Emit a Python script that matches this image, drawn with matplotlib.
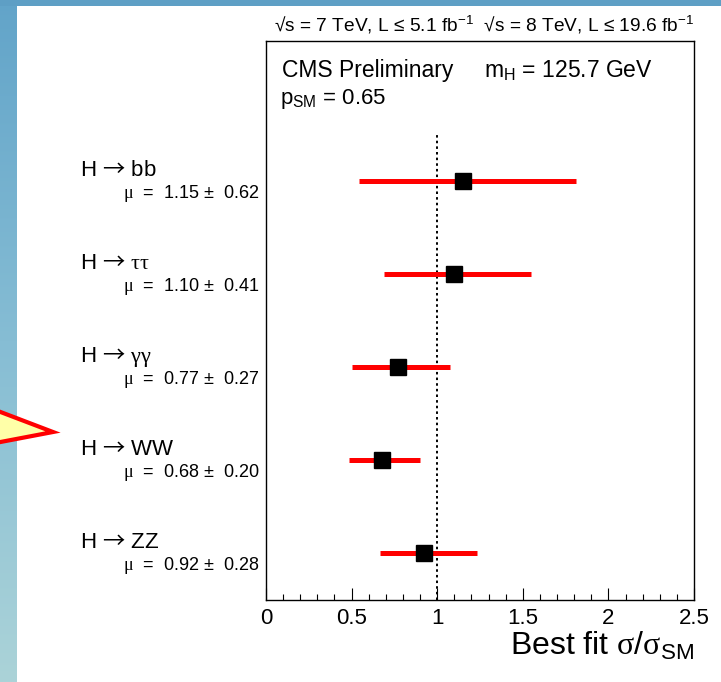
import numpy as np
import matplotlib
matplotlib.use("Agg")
import matplotlib.pyplot as plt
from matplotlib.patches import Polygon, Rectangle
from matplotlib.colors import LinearSegmentedColormap

# signal strength per decay channel
channels = ['bb', r'$\mathit{\tau\tau}$', r'$\mathit{\gamma\gamma}$', 'WW', 'ZZ']
mu = [1.15, 1.10, 0.77, 0.68, 0.92]
mu_err = [0.62, 0.41, 0.27, 0.20, 0.28]
band_lo = [0.545, 0.69, 0.505, 0.487, 0.666]
band_hi = [1.81, 1.547, 1.075, 0.90, 1.234]
tick_vals = [0, 0.5, 1, 1.5, 2, 2.5]
tick_labels = ['0', '0.5', '1', '1.5', '2', '2.5']

plt.rcParams['font.family'] = ['Liberation Sans', 'DejaVu Sans']
plt.rcParams['mathtext.fontset'] = 'custom'
plt.rcParams['mathtext.rm'] = 'Liberation Sans'
plt.rcParams['mathtext.it'] = 'Liberation Serif'
plt.rcParams['mathtext.sf'] = 'Noto Sans CJK JP'
plt.rcParams['mathtext.default'] = 'rm'

W, H = 721, 682
fig = plt.figure(figsize=(W / 100, H / 100), dpi=100)

# slide background, pixel coords from the top left
bg = fig.add_axes([0, 0, 1, 1], zorder=-10)
grad = np.linspace(0, 1, 256).reshape(-1, 1)
slide_cmap = LinearSegmentedColormap.from_list('slide', ['#62a4c9', '#86bdd4', '#abd3d8'])
bg.imshow(grad, extent=(0, 17, H, 0), cmap=slide_cmap, aspect='auto')
bg.add_patch(Rectangle((0, 0), W, 6, color='#5e9fc5', lw=0))
bg.add_patch(Polygon([(-10, 408), (53, 432), (-10, 444)], closed=True,
                     facecolor='#ffffa8', edgecolor='#ff0000', lw=3, joinstyle='miter'))
bg.set_xlim(0, W)
bg.set_ylim(H, 0)
bg.axis('off')

# main plot
ax = fig.add_axes([266 / W, (H - 600) / H, (694 - 266) / W, (600 - 41) / H])
n = len(mu)
ypos = [n - i - 0.5 for i in range(n)]

ax.hlines(ypos, band_lo, band_hi, color='#ff0000', lw=3.6, zorder=2)
ax.plot(mu, ypos, 's', color='black', markersize=11.5, zorder=3)
ax.vlines(1, 0, 5, color='black', lw=1.4, linestyles=(0, (1.3, 1.6)), zorder=1)

ax.set_xlim(0, 2.5)
ax.set_ylim(0, n + 1)
ax.set_yticks([])
ax.set_xticks(tick_vals)
ax.set_xticklabels(tick_labels)
ax.set_xticks(np.arange(0, 2.51, 0.1), minor=True)
ax.tick_params(axis='x', which='major', direction='in', length=8.6, width=0.8,
               labelsize=16, pad=6)
ax.tick_params(axis='x', which='minor', direction='in', length=4.3, width=0.8)
for sp in ax.spines.values():
    sp.set_linewidth(1.0)

# channel labels on the left
for lbl, m, e, y in zip(channels, mu, mu_err, ypos):
    ax.annotate(r'H $\mathsf{→}$ ' + lbl, xy=(80, y), xycoords=('figure pixels', 'data'),
                xytext=(0, 5), textcoords='offset pixels', ha='left', va='baseline',
                fontsize=16)
    ax.annotate(r'$\mathit{\mu}$  =  %.2f ±  %.2f' % (m, e), xy=(259, y),
                xycoords=('figure pixels', 'data'), xytext=(0, -17),
                textcoords='offset pixels', ha='right', va='baseline', fontsize=13)

# header texts
fig.text(694, 31, r'√s = 7 TeV, L ≤ 5.1 fb$^{-1}$  √s = 8 TeV, L ≤ 19.6 fb$^{-1}$',
         transform=bg.transData, ha='right', va='baseline', fontsize=13.8)
fig.text(282, 77, 'CMS Preliminary', transform=bg.transData, ha='left',
         va='baseline', fontsize=16.5)
fig.text(484, 77, r'm$_{\mathrm{H}}$ = 125.7 GeV', transform=bg.transData, ha='left',
         va='baseline', fontsize=16.5)
fig.text(280, 104, r'p$_{\mathrm{SM}}$ = 0.65', transform=bg.transData, ha='left',
         va='baseline', fontsize=16)
fig.text(694, 655, r'Best fit $\mathit{\sigma}/\mathit{\sigma}_{\mathrm{SM}}$',
         transform=bg.transData, ha='right', va='baseline', fontsize=23)

fig.savefig('out.png', dpi=100, facecolor='white')
